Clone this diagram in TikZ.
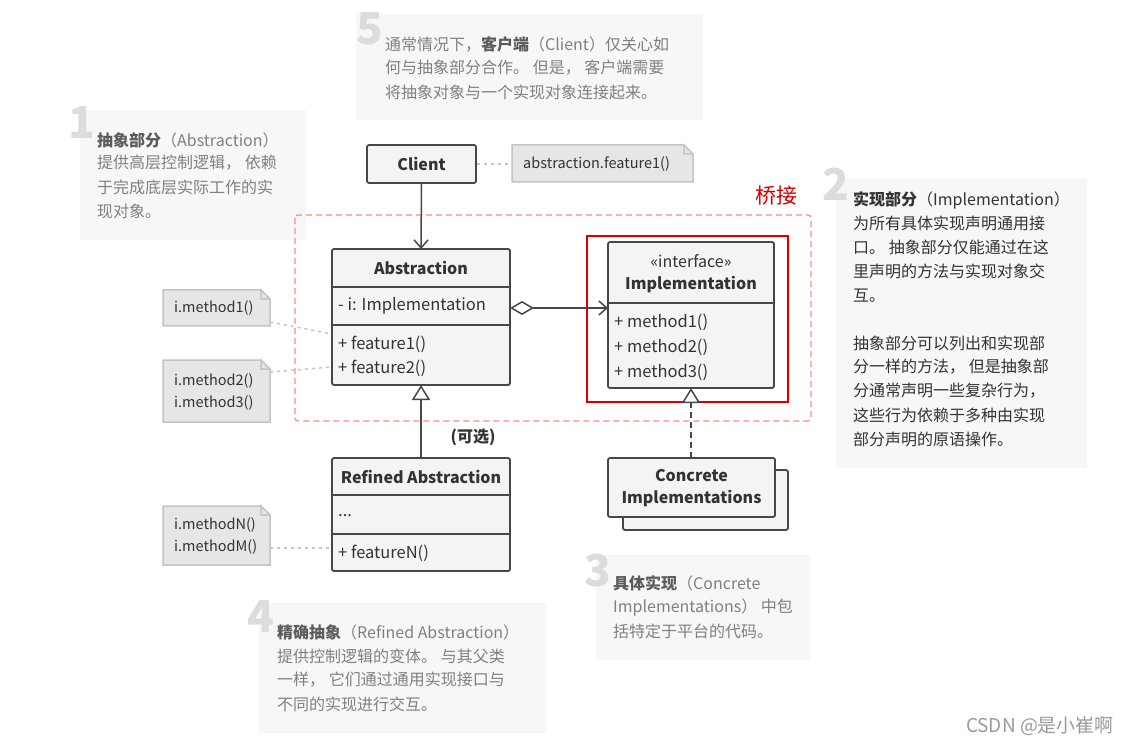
\documentclass[tikz,border=0pt]{standalone}
\usepackage{fontspec}
\setmainfont{Noto Sans CJK SC}
\usetikzlibrary{arrows.meta}
\definecolor{bd}{HTML}{474747}
\definecolor{bx}{HTML}{F4F4F4}
\definecolor{ntfill}{HTML}{E6E6E6}
\definecolor{ntb}{HTML}{C4C4C4}
\definecolor{tx}{HTML}{333333}
\definecolor{pn}{HTML}{F7F7F7}
\definecolor{ptc}{HTML}{808080}
\definecolor{br}{HTML}{F29080}
\tikzset{
 umlbox/.style={draw=bd,line width=1.8pt,fill=bx,rounded corners=2pt},
 umlsec/.style={draw=bd,line width=1.8pt},
 t/.style={text=tx,font=\fontsize{16.5}{20}\selectfont,anchor=west,inner sep=0},
 tb/.style={text=tx,font=\fontsize{16}{22}\selectfont\bfseries,inner sep=0},
 ntxt/.style={text=tx,font=\fontsize{14.5}{18}\selectfont,anchor=west,inner sep=0},
 panel/.style={fill=pn,draw=none},
 ptx/.style={text=ptc,font=\fontsize{16}{20}\selectfont,anchor=west,inner sep=0},
 big/.style={text=ntb!60,font=\fontsize{44}{44}\selectfont\bfseries,anchor=north west,inner sep=0},
 dotl/.style={draw=ntb,line width=1.5pt,dash pattern=on 3pt off 4pt},
 arr/.style={draw=bd,line width=1.5pt},
}
\newcommand{\fnote}[5]{% name x1 y1 x2 y2
 \fill[ntfill] (#2,#3) -- (#4-9,#3) -- (#4,#3+9) -- (#4,#5) -- (#2,#5) -- cycle;
 \draw[draw=ntb,line width=1.5pt] (#4-9,#3) -- (#2,#3) -- (#2,#5) -- (#4,#5) -- (#4,#3+9) -- (#4-9,#3) -- (#4-9,#3+9) -- (#4,#3+9);
 \coordinate (#1) at ({(#2+#4)/2},{(#3+#5)/2});}
\begin{document}
\begin{tikzpicture}[x=1pt,y=-1pt]
\useasboundingbox[fill=white] (0,0) rectangle (1128,746);
% panels
\fill[panel] (356,14) rectangle (703,120);
\node[big] (n5) at (356,12) {5};
\node[ptx] (p5a) at (385,44) {通常情况下，\textbf{\color{tx!80}客户端}（Client）仅关心如};
\node[ptx] (p5b) at (385,68) {何与抽象部分合作。 但是， 客户端需要};
\node[ptx] (p5c) at (385,92) {将抽象对象与一个实现对象连接起来。};
\fill[panel] (80,110) rectangle (306,240);
\node[big] (n1) at (68,106) {1};
\node[ptx] (p1a) at (97,140) {\textbf{\color{tx!80}抽象部分}（Abstraction）};
\node[ptx] (p1b) at (97,163) {提供高层控制逻辑， 依赖};
\node[ptx] (p1c) at (97,187) {于完成底层实际工作的实};
\node[ptx] (p1d) at (97,211) {现对象。};
\fill[panel] (836,178) rectangle (1087,468);
\node[big] (n2) at (822,168) {2};
\node[ptx,text=tx] (p2a) at (853,200) {\textbf{实现部分}（Implementation）};
\node[ptx,text=tx] (p2b) at (853,223) {为所有具体实现声明通用接};
\node[ptx,text=tx] (p2c) at (853,247) {口。 抽象部分仅能通过在这};
\node[ptx,text=tx] (p2d) at (853,271) {里声明的方法与实现对象交};
\node[ptx,text=tx] (p2e) at (853,296) {互。};
\node[ptx,text=tx] (p2f) at (853,343) {抽象部分可以列出和实现部};
\node[ptx,text=tx] (p2g) at (853,367) {分一样的方法， 但是抽象部};
\node[ptx,text=tx] (p2h) at (853,391) {分通常声明一些复杂行为，};
\node[ptx,text=tx] (p2i) at (853,415) {这些行为依赖于多种由实现};
\node[ptx,text=tx] (p2j) at (853,439) {部分声明的原语操作。};
\fill[panel] (596,555) rectangle (810,660);
\node[big] (n3) at (584,554) {3};
\node[ptx] (p3a) at (613,583) {\textbf{\color{tx!80}具体实现}（Concrete};
\node[ptx] (p3b) at (613,607) {Implementations） 中包};
\node[ptx] (p3c) at (613,631) {括特定于平台的代码。};
\fill[panel] (259,603) rectangle (546,733);
\node[big] (n4) at (247,600) {4};
\node[ptx] (p4a) at (277,632) {\textbf{\color{tx!80}精确抽象}（Refined Abstraction）};
\node[ptx] (p4b) at (277,656) {提供控制逻辑的变体。 与其父类};
\node[ptx] (p4c) at (277,680) {一样， 它们通过通用实现接口与};
\node[ptx] (p4d) at (277,704) {不同的实现进行交互。};
% bridge
\draw[draw=br,line width=1.3pt,dash pattern=on 6pt off 4pt,rounded corners=3pt] (295,215) rectangle (811,421);
\node[text=red!80!black,font=\fontsize{21}{24}\selectfont,inner sep=0] (bridge) at (776,196) {桥接};
\draw[red!85!black,line width=2.2pt] (587,236) rectangle (788,402);
% client
\node[umlbox,minimum width=109pt,minimum height=38pt,tb] (client) at (421.5,164) {Client};
\fnote{cn}{512}{145}{693}{182}
\node[ntxt] (cnt) at (523,164) {abstraction.feature1()};
\draw[dotl] (client.east) -- (512,164);
% abstraction
\draw[umlbox] (332,249) rectangle (510,385);
\draw[umlsec] (332,287) -- (510,287) (332,325) -- (510,325);
\node[tb] (abs) at (421,268) {Abstraction};
\node[t] (absf) at (338,306) {- i: Implementation};
\node[t] (abm1) at (338,344) {+ feature1()};
\node[t] (abm2) at (338,368) {+ feature2()};
\coordinate (abstop) at (421,249);
\coordinate (absbot) at (421,385);
\coordinate (absr) at (510,308);
% implementation
\draw[umlbox] (608,242) rectangle (774,388);
\draw[umlsec] (608,303) -- (774,303);
\node[text=tx,font=\fontsize{16}{20}\selectfont,inner sep=0] (st) at (691,261) {«interface»};
\node[tb] (impl) at (691,285) {Implementation};
\node[t] (im1) at (614,322) {+ method1()};
\node[t] (im2) at (614,347) {+ method2()};
\node[t] (im3) at (614,372) {+ method3()};
\coordinate (impll) at (608,308);
\coordinate (implbot) at (691,388);
% refined
\draw[umlbox] (332,458) rectangle (510,571);
\draw[umlsec] (332,495) -- (510,495) (332,534) -- (510,534);
\node[tb] (ref) at (421,477) {Refined Abstraction};
\node[t] (refd) at (338,516) {...};
\node[t] (refm) at (338,553) {+ featureN()};
\coordinate (reftop) at (421,458);
% concrete
\draw[umlbox] (623,470) rectangle (788,530);
\draw[umlbox] (608,458) rectangle (775,517);
\node[tb,align=center] (conc) at (691.5,488) {Concrete\\Implementations};
\coordinate (conctop) at (691,458);
% arrows
\draw[arr,-{Straight Barb[length=8pt,width=14pt]}] (client.south) -- (abstop);
\draw[arr,{Diamond[open,length=24pt,width=14pt,fill=white]}-{Straight Barb[length=8pt,width=14pt]}] (absr) -- (impll);
\draw[arr,-{Triangle[open,length=15pt,width=18pt,fill=white]}] (reftop) -- (absbot);
\draw[arr,dash pattern=on 6pt off 4pt,-{Triangle[open,length=15pt,width=18pt,fill=white]}] (conctop) -- (implbot);
\node[tb] (opt) at (473,437) {(可选)};
% notes
\fnote{na}{163}{290}{270}{326}
\node[ntxt] (nat) at (174,308) {i.method1()};
\fnote{nb}{163}{360}{270}{422}
\node[ntxt] (nbt1) at (174,381) {i.method2()};
\node[ntxt] (nbt2) at (174,403) {i.method3()};
\fnote{nc}{163}{506}{270}{565}
\node[ntxt] (nct1) at (174,525) {i.methodN()};
\node[ntxt] (nct2) at (174,547) {i.methodM()};
\draw[dotl] (270,322) -- (332,334);
\draw[dotl] (270,372) -- (332,367);
\draw[dotl] (270,548) -- (332,548);
\node[text=ptc!80,font=\fontsize{19}{22}\selectfont,inner sep=0] (csdn) at (1040,726) {CSDN @是小崔啊};
\end{tikzpicture}
\end{document}
